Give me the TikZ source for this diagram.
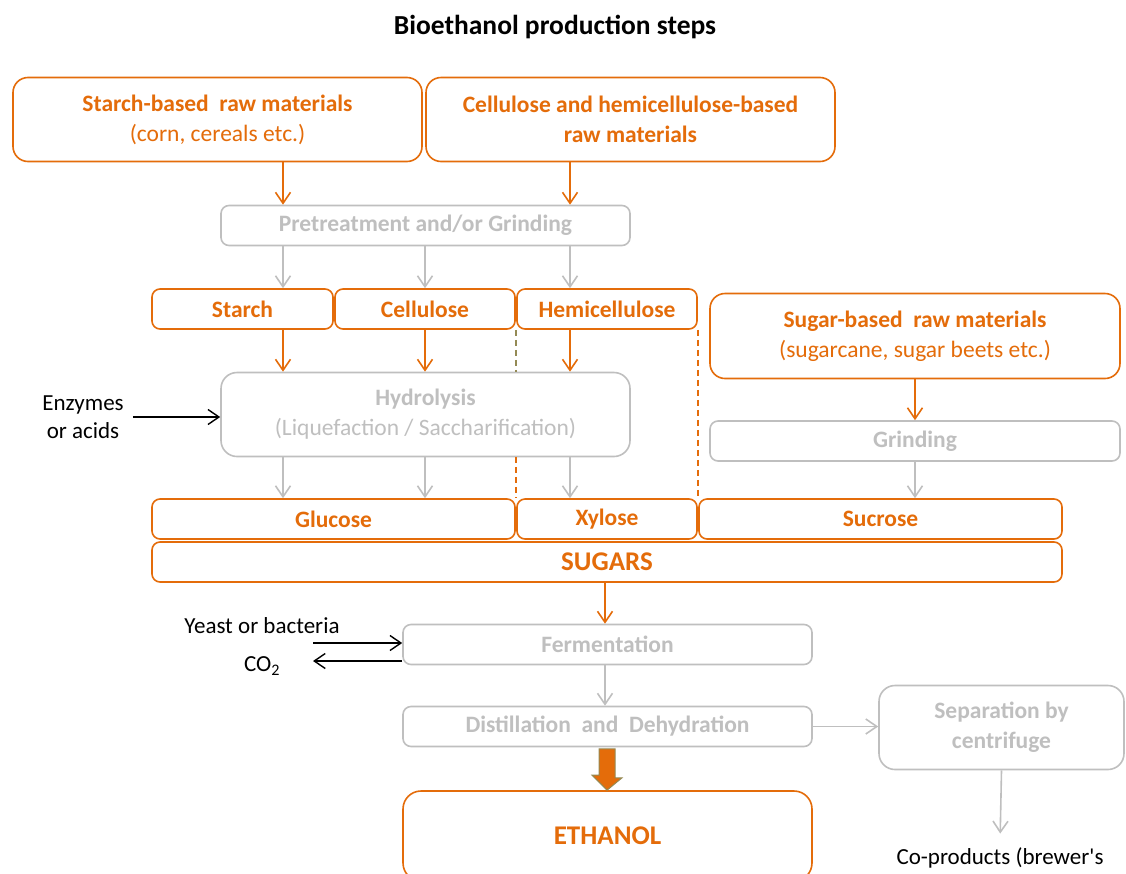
\documentclass[tikz,border=0pt]{standalone}
\usepackage{fontspec}
\setmainfont{Carlito}
\usetikzlibrary{arrows.meta}
\definecolor{boxorange}{HTML}{E46C0A}
\definecolor{boxgray}{HTML}{BFBFBF}
\definecolor{dashgreen}{HTML}{948A54}

\begin{document}
\begin{tikzpicture}[x=1pt,y=-1pt,align=center]
	\tikzstyle{rawbox}=[draw=boxorange,text=boxorange,fill=white,line width=1.6pt,rounded corners=15pt,minimum width=409pt,minimum height=84pt,inner sep=0pt,font=\fontsize{23.5}{30}\selectfont]
	\tikzstyle{smallbox}=[draw=boxorange,text=boxorange,fill=white,line width=1.6pt,rounded corners=8pt,minimum height=40pt,inner sep=0pt,font=\fontsize{23.5}{28}\selectfont\bfseries]
	\tikzstyle{graybox}=[draw=boxgray,text=boxgray,fill=white,line width=1.6pt,rounded corners=8pt,minimum width=409pt,minimum height=40pt,inner sep=0pt,font=\fontsize{23.5}{30}\selectfont]
	\tikzstyle{plaintext}=[inner sep=4pt,font=\fontsize{23}{28}\selectfont]
	\tikzstyle{orangearrow}=[draw=boxorange,line width=1.6pt,-{Straight Barb[length=11pt,width=15pt]}]
	\tikzstyle{grayarrow}=[draw=boxgray,line width=1.6pt,-{Straight Barb[length=11pt,width=15pt]}]
	\tikzstyle{blackarrow}=[draw=black,line width=1.4pt,-{Straight Barb[length=11pt,width=15pt]}]
	\tikzstyle{fatarrow}=[draw=dashgreen,fill=boxorange,line width=1pt,line join=miter]
	\tikzstyle{splitline}=[line width=1.6pt,dash pattern=on 6pt off 4pt]

	\useasboundingbox (0,0) rectangle (1126,873);
	\clip (0,0) rectangle (1126,873);

	\node[font=\fontsize{27.5}{32}\selectfont\bfseries](title) at (555,27){Bioethanol production steps};

	% raw materials
	\node[rawbox](starch_raw) at (217.5,119.5){\textbf{Starch-based \ raw materials}\\(corn, cereals etc.)};
	\node[rawbox](cellulose_raw) at (630.5,119.5){\textbf{Cellulose and hemicellulose-based}\\\textbf{raw materials}};
	\node[rawbox,minimum width=410pt,minimum height=85pt](sugar_raw) at (915,336){\textbf{Sugar-based \ raw materials}\\(sugarcane, sugar beets etc.)};

	\node[graybox,font=\fontsize{23.5}{30}\selectfont\bfseries](pretreatment) at (425.5,225.5){Pretreatment and/or Grinding};

	\node[smallbox,minimum width=181pt](starch) at (242.5,309){Starch};
	\node[smallbox,minimum width=180pt](cellulose) at (425,309){Cellulose};
	\node[smallbox,minimum width=180pt](hemicellulose) at (607,309){Hemicellulose};

	\node[graybox,rounded corners=16pt,minimum height=84pt](hydrolysis) at (425.5,414.5){\textbf{Hydrolysis}\\(Liquefaction / Saccharification)};
	\node[graybox,minimum width=410pt,font=\fontsize{23.5}{30}\selectfont\bfseries](grinding) at (915,441){Grinding};

	\node[smallbox,minimum width=363pt](glucose) at (333.5,519){Glucose};
	\node[smallbox,minimum width=180pt](xylose) at (607,519){Xylose};
	\node[smallbox,minimum width=363pt](sucrose) at (880.5,519){Sucrose};
	\node[smallbox,minimum width=910pt,font=\fontsize{27}{30}\selectfont\bfseries](sugars) at (607,562){SUGARS};

	\node[graybox,font=\fontsize{23.5}{30}\selectfont\bfseries](fermentation) at (607.5,644.5){Fermentation};
	\node[graybox,font=\fontsize{23.5}{30}\selectfont\bfseries](distillation) at (607.5,726.5){Distillation \ and \ Dehydration};
	\node[graybox,rounded corners=16pt,minimum width=245pt,minimum height=84pt,font=\fontsize{23.5}{30}\selectfont\bfseries](separation) at (1001.5,727.5){Separation by\\centrifuge};

	\node[smallbox,rounded corners=18pt,minimum width=409pt,minimum height=90pt,font=\fontsize{27}{30}\selectfont\bfseries](ethanol) at (607.5,836){ETHANOL};

	% side inputs and outputs
	\node[plaintext](enzymes) at (83,417){Enzymes\\or acids};
	\node[plaintext](yeast) at (262,626){Yeast or bacteria};
	\node[plaintext](co2) at (262,666){CO\textsubscript{2}};
	\node[plaintext](coproducts) at (1000,858){Co-products (brewer\textquotesingle s};

	\coordinate(col_a) at (283,0);
	\coordinate(col_b) at (425,0);
	\coordinate(col_c) at (570,0);
	\coordinate(col_d) at (915,0);
	\coordinate(col_e) at (605,0);
	\coordinate(col_f) at (607,0);
	\coordinate(yeast_in) at (313,643);
	\coordinate(co2_out) at (313,661);

	\draw[orangearrow](starch_raw.south-|col_a) -- (pretreatment.north-|col_a);
	\draw[orangearrow](cellulose_raw.south-|col_c) -- (pretreatment.north-|col_c);

	\foreach \col/\target in {col_a/starch,col_b/cellulose,col_c/hemicellulose}
		\draw[grayarrow](pretreatment.south-|\col) -- (\target.north-|\col);
	\foreach \col/\source in {col_a/starch,col_b/cellulose,col_c/hemicellulose}
		\draw[orangearrow](\source.south-|\col) -- (hydrolysis.north-|\col);
	\foreach \col/\target in {col_a/glucose,col_b/glucose,col_c/xylose}
		\draw[grayarrow](hydrolysis.south-|\col) -- (\target.north-|\col);

	\draw[splitline,dashgreen](hemicellulose.south west) -- (hydrolysis.north-|hemicellulose.south west);
	\draw[splitline,boxorange](hydrolysis.south-|xylose.north west) -- (xylose.north west);
	\draw[splitline,boxorange](hemicellulose.south east) -- (xylose.north east);

	\draw[orangearrow](sugar_raw.south-|col_d) -- (grinding.north-|col_d);
	\draw[grayarrow](grinding.south-|col_d) -- (sucrose.north-|col_d);

	\draw[blackarrow,shorten <=5pt](enzymes.east) -- (enzymes.east-|hydrolysis.west);

	\draw[orangearrow](sugars.south-|col_e) -- (fermentation.north-|col_e);
	\draw[blackarrow](yeast_in) -- (yeast_in-|fermentation.west);
	\draw[blackarrow](co2_out-|fermentation.west) -- (co2_out);

	\draw[grayarrow](fermentation.south-|col_e) -- (distillation.north-|col_e);
	\draw[fatarrow]([xshift=-8pt,yshift=-1.5pt]distillation.south-|col_f) -- ++(16,0) -- ++(0,29) -- ++(7,0) -- (ethanol.north-|col_f) -- ++(-15,-15) -- ++(7,0) -- cycle;
	\draw[grayarrow](distillation.east) -- (distillation.east-|separation.west);
	\draw[grayarrow,shorten >=10pt](separation.south) -- (coproducts.north);
\end{tikzpicture}
\end{document}
